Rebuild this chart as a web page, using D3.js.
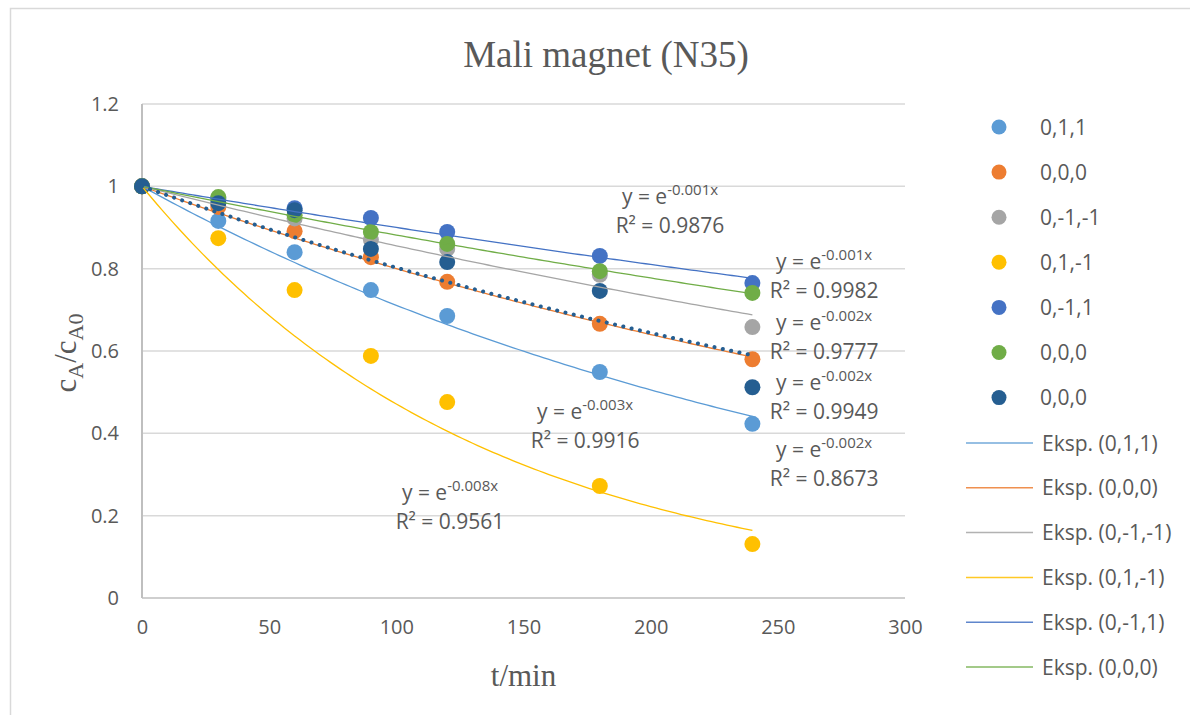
<!DOCTYPE html>
<html><head><meta charset="utf-8">
<script src="https://cdn.jsdelivr.net/npm/d3@7"></script>
<style>body{margin:0;background:#fff}</style>
</head><body><svg id="c" width="1190" height="715"></svg>
<script>
// ---- data ----
const times = [0, 30, 60, 90, 120, 180, 240];
const seriesNames = ["0,1,1", "0,0,0", "0,-1,-1", "0,1,-1", "0,-1,1", "0,0,0", "0,0,0"];
const s011   = [1, 0.916, 0.840, 0.748, 0.685, 0.549, 0.423];
const s000a  = [1, 0.950, 0.891, 0.828, 0.768, 0.666, 0.580];
const s0m1m1 = [1, 0.960, 0.922, 0.870, 0.848, 0.785, 0.658];
const s01m1  = [1, 0.874, 0.748, 0.588, 0.476, 0.272, 0.131];
const s0m11  = [1, 0.970, 0.947, 0.923, 0.889, 0.831, 0.765];
const s000b  = [1, 0.974, 0.930, 0.889, 0.860, 0.794, 0.741];
const s000c  = [1, 0.959, 0.942, 0.848, 0.816, 0.746, 0.512];
const seriesValues = [s011, s000a, s0m1m1, s01m1, s0m11, s000b, s000c];
const trendNames = ["Eksp. (0,1,1)", "Eksp. (0,0,0)", "Eksp. (0,-1,-1)", "Eksp. (0,1,-1)", "Eksp. (0,-1,1)", "Eksp. (0,0,0)"];
const eqExponent = ["-0.003x", "-0.002x", "-0.002x", "-0.008x", "-0.001x", "-0.001x", "-0.002x"];
const r2Values = ["0.9916", "0.9949", "0.9777", "0.9561", "0.9982", "0.9876", "0.8673"];
const xTicks = [0, 50, 100, 150, 200, 250, 300];
const yTicks = [0, 0.2, 0.4, 0.6, 0.8, 1, 1.2];
const titleText = "Mali magnet (N35)";

// ---- layout / style ----
const colors = ["#5B9BD5", "#ED7D31", "#A5A5A5", "#FFC000", "#4472C4", "#70AD47", "#255E91"];
const labelAnchor = [[174.2, 0.417], [268.2, 0.488], [268.2, 0.633], [121.1, 0.221], [268.2, 0.782], [207.6, 0.939], [268.2, 0.3255]];
const plot = {left: 142, right: 905, top: 104, bottom: 598};
const textColor = "#595959";
const sans = "'Open Sans', 'Noto Sans', sans-serif";
const serif = "'Liberation Serif', 'DejaVu Serif', serif";

const svg = d3.select("#c");
svg.append("rect").attr("width", 1190).attr("height", 715).attr("fill", "#fff");
svg.append("rect").attr("x", 10.5).attr("y", 8.5).attr("width", 1200).attr("height", 720)
  .attr("fill", "none").attr("stroke", "#d9d9d9").attr("stroke-width", 1.5);

const x = d3.scaleLinear().domain([0, 300]).range([plot.left, plot.right]);
const y = d3.scaleLinear().domain([0, 1.2]).range([plot.bottom, plot.top]);

// gridlines
svg.append("g").selectAll("line").data(yTicks).join("line")
  .attr("x1", plot.left).attr("x2", plot.right)
  .attr("y1", d => y(d)).attr("y2", d => y(d))
  .attr("stroke", d => d === 0 ? "#bfbfbf" : "#d9d9d9").attr("stroke-width", 1.5);

// y axis line
svg.append("line").attr("x1", plot.left).attr("x2", plot.left)
  .attr("y1", plot.top).attr("y2", plot.bottom)
  .attr("stroke", "#bfbfbf").attr("stroke-width", 2);

// axes tick labels via d3 axes
const yAxis = d3.axisLeft(y).tickValues(yTicks).tickSize(0).tickPadding(23).tickFormat(d3.format("~g"));
const gy = svg.append("g").attr("transform", `translate(${plot.left},0)`).call(yAxis);
gy.select(".domain").remove();
gy.selectAll("text").attr("font-family", sans).attr("font-size", 20).attr("fill", textColor);

const xAxis = d3.axisBottom(x).tickValues(xTicks).tickSize(0).tickPadding(22).tickFormat(d3.format("~g"));
const gx = svg.append("g").attr("transform", `translate(0,${plot.bottom})`).call(xAxis);
gx.select(".domain").remove();
gx.selectAll("text").attr("font-family", sans).attr("font-size", 20).attr("fill", textColor);

// title
svg.append("text").attr("x", 606).attr("y", 67).attr("text-anchor", "middle")
  .attr("font-family", serif).attr("font-size", 37).attr("fill", textColor).text(titleText);

// x title
svg.append("text").attr("x", (plot.left + plot.right) / 2).attr("y", 686).attr("text-anchor", "middle")
  .attr("font-family", serif).attr("font-size", 31).attr("fill", textColor).text("t/min");

// y title
const yt = svg.append("text").attr("transform", "translate(76,353) rotate(-90)").attr("text-anchor", "middle")
  .attr("font-family", serif).attr("font-size", 31).attr("fill", textColor);
yt.append("tspan").text("c");
yt.append("tspan").attr("font-size", 22).attr("dy", 7).text("A");
yt.append("tspan").attr("dy", -7).text("/c");
yt.append("tspan").attr("font-size", 22).attr("dy", 7).text("A0");

// markers
seriesValues.forEach((vals, i) => {
  svg.append("g").selectAll("circle").data(vals.map((v, k) => [times[k], v])).join("circle")
    .attr("cx", d => x(d[0])).attr("cy", d => y(d[1])).attr("r", 8).attr("fill", colors[i]);
});

// exponential trendlines (intercept fixed at 1): ln y = b x
const line = d3.line().x(d => x(d[0])).y(d => y(d[1]));
seriesValues.forEach((vals, i) => {
  let sxy = 0, sxx = 0;
  vals.forEach((v, k) => { sxy += times[k] * Math.log(v); sxx += times[k] * times[k]; });
  const b = sxy / sxx;
  const pts = d3.range(0, 240.001, 2).map(t => [t, Math.exp(b * t)]);
  const p = svg.append("path").attr("d", line(pts)).attr("fill", "none").attr("stroke", colors[i]);
  if (i === 6) {
    p.attr("stroke-width", 4).attr("stroke-linecap", "round").attr("stroke-dasharray", "0.1 8.4");
  } else {
    p.attr("stroke-width", 1.3);
  }
});

// equation labels
labelAnchor.forEach((a, i) => {
  const cx = x(a[0]), cy = y(a[1]);
  const t1 = svg.append("text").attr("x", cx).attr("y", cy - 14.5 + 7).attr("text-anchor", "middle")
    .attr("font-family", sans).attr("font-size", 21).attr("fill", textColor);
  t1.append("tspan").text("y = e");
  t1.append("tspan").attr("font-size", 15).attr("dy", -9).text(eqExponent[i]);
  svg.append("text").attr("x", cx).attr("y", cy + 14.5 + 7).attr("text-anchor", "middle")
    .attr("font-family", sans).attr("font-size", 21).attr("fill", textColor)
    .text("R² = " + r2Values[i]);
});

// legend
const lg = svg.append("g");
seriesNames.forEach((n, i) => {
  const ly = 127 + i * 45.1;
  lg.append("circle").attr("cx", 999).attr("cy", ly).attr("r", 7.5).attr("fill", colors[i]);
  lg.append("text").attr("x", 1040).attr("y", ly).attr("dy", "0.36em")
    .attr("font-family", sans).attr("font-size", 21).attr("fill", textColor).text(n);
});
trendNames.forEach((n, i) => {
  const ly = 443 + i * 44.8;
  lg.append("line").attr("x1", 966).attr("x2", 1033).attr("y1", ly).attr("y2", ly)
    .attr("stroke", colors[i]).attr("stroke-width", 1.5).attr("opacity", 0.85);
  lg.append("text").attr("x", 1042).attr("y", ly).attr("dy", "0.36em")
    .attr("font-family", sans).attr("font-size", 21).attr("fill", textColor).text(n);
});
</script></body></html>
